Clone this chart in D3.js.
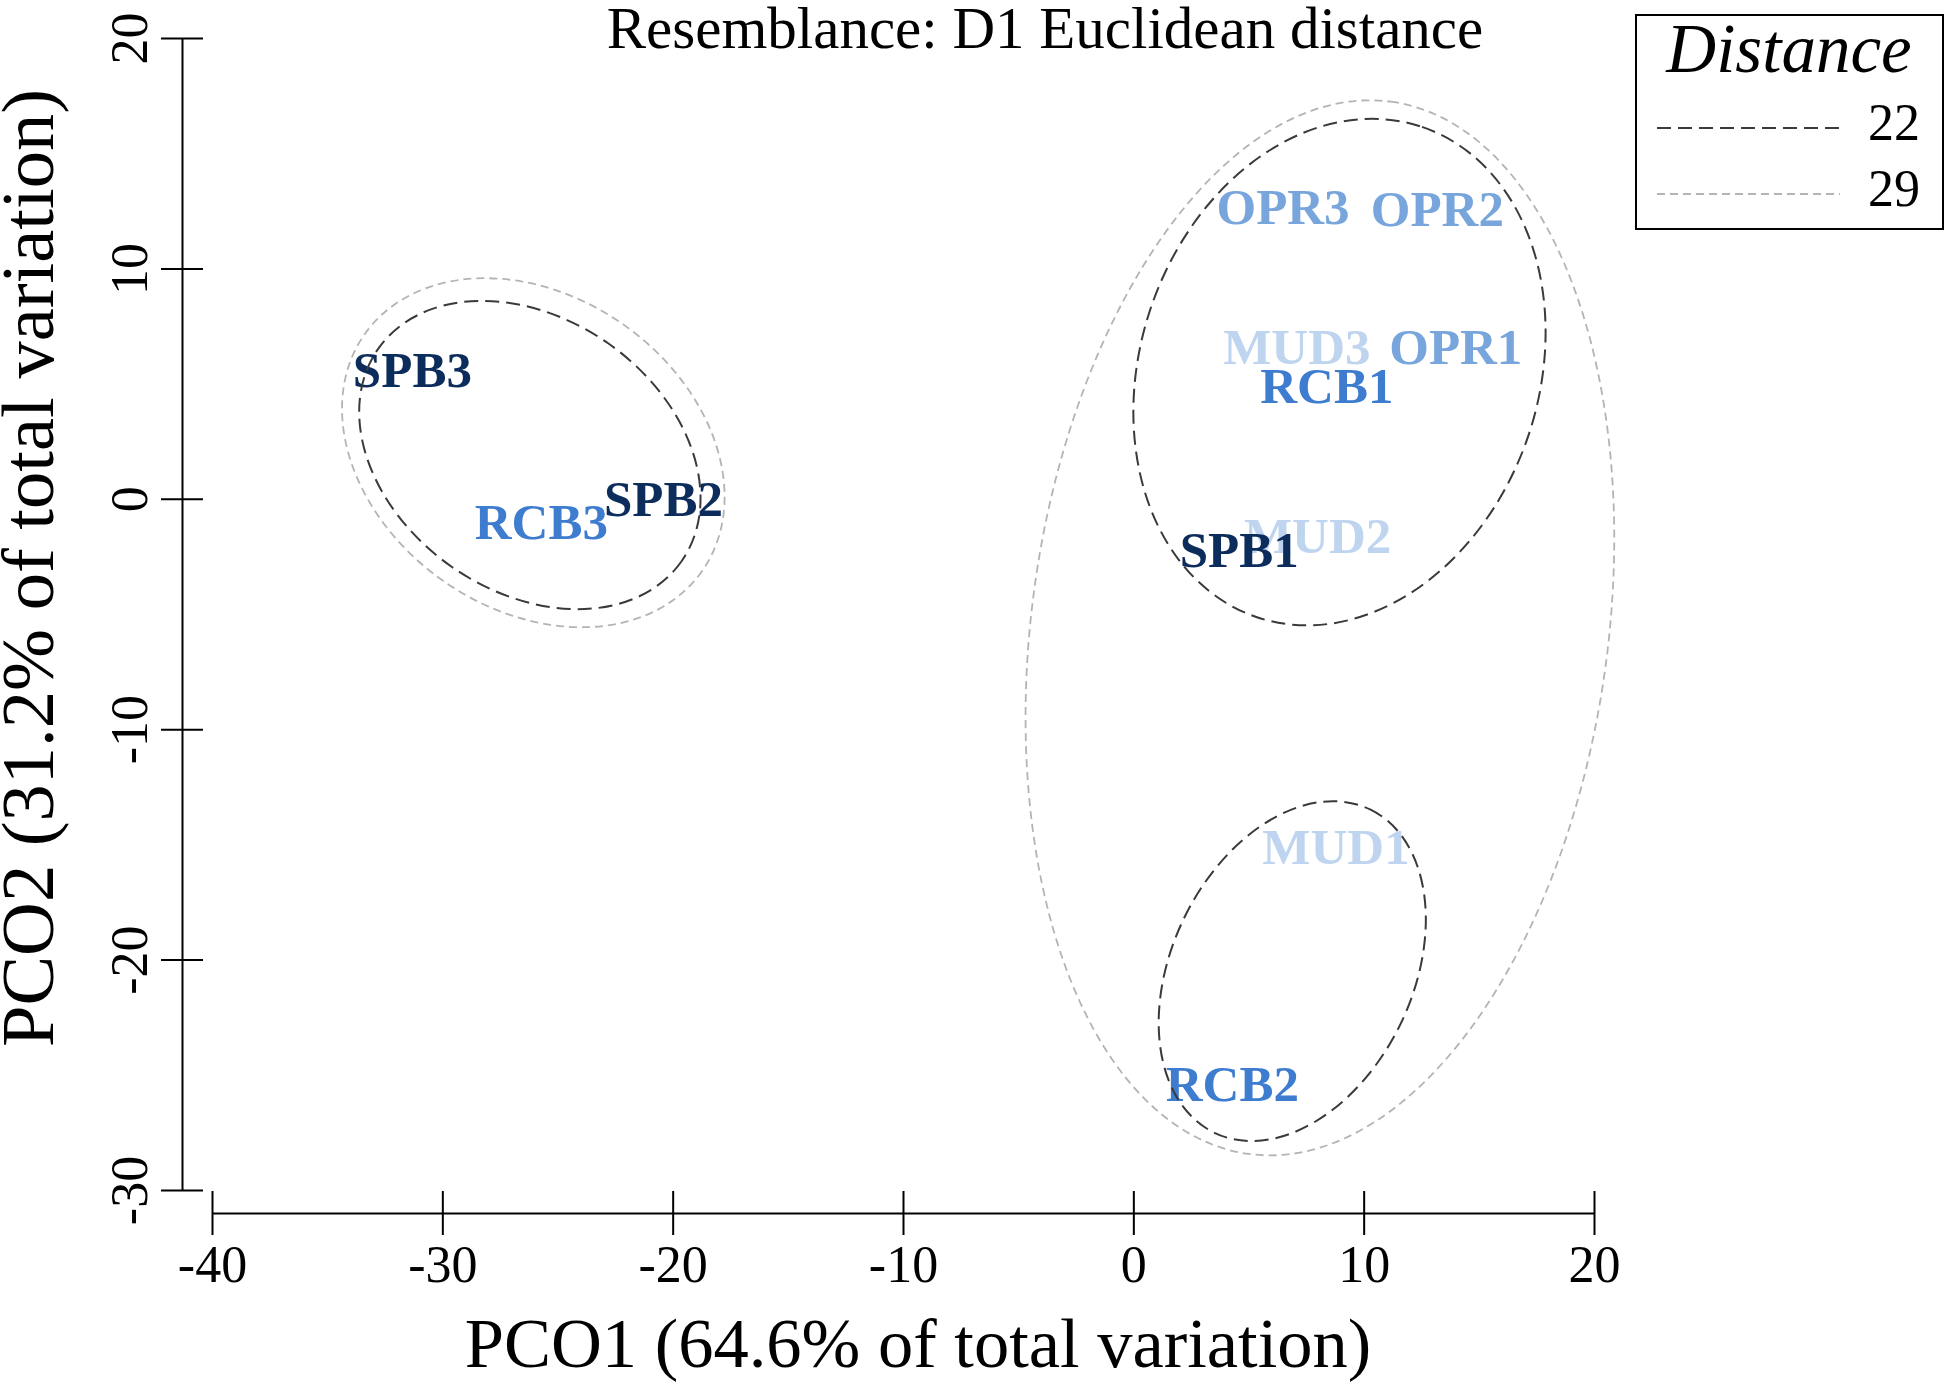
<!DOCTYPE html>
<html>
<head>
<meta charset="utf-8">
<script src="https://cdn.jsdelivr.net/npm/d3@7"></script>
<style>
  body { margin: 0; background: #fff; }
  text { font-family: "Liberation Serif", "Times New Roman", serif; }
</style>
</head>
<body>
<div id="plot"></div>
<script>
// sample labels and their PCO scores
var sites = ["MUD1", "MUD2", "MUD3", "OPR1", "OPR2", "OPR3", "RCB1", "RCB2", "RCB3", "SPB1", "SPB2", "SPB3"];
var pco1  = [8.8, 8.0, 7.1, 14.0, 13.2, 6.5, 8.4, 4.3, -25.7, 4.6, -20.4, -31.3];
var pco2  = [-15.1, -1.6, 6.6, 6.6, 12.6, 12.7, 4.9, -25.4, -1.0, -2.2, 0.0, 5.6];
var groupColors = { MUD: "#bfd5ef", OPR: "#78a6dc", RCB: "#3d7ccf", SPB: "#0c2c5c" };

// cluster contours (ellipse approximations): centre, semi axes, angle (deg, ccw), distance level
var ringLevel = [22, 29, 22, 22, 29];
var ringCx    = [-26.2, -26.05, 8.95, 6.9, 8.1];
var ringCy    = [1.9, 2.0, 5.5, -20.5, -5.6];
var ringA     = [8.04, 8.95, 11.23, 7.79, 23.05];
var ringB     = [5.92, 6.8, 8.65, 5.23, 12.51];
var ringAngle = [-35, -35, 71.4, 64.3, 82.3];

var xTicks = [-40, -30, -20, -10, 0, 10, 20];
var yTicks = [-30, -20, -10, 0, 10, 20];
var levels = [22, 29];
var levelStyle = {
  22: { stroke: "#3a3a3a", width: 2, dash: "14,7" },
  29: { stroke: "#b4b4b4", width: 1.8, dash: "8,5" }
};

var W = 1950, H = 1385;
var svg = d3.select("#plot").append("svg").attr("width", W).attr("height", H);

var x = d3.scaleLinear().domain([-40, 20]).range([212, 1594]);
var y = d3.scaleLinear().domain([-30, 20]).range([1190, 38]);
var plain = function (d) { return String(d); };  // hyphen, not unicode minus

// y axis
var yAxis = svg.append("g")
    .attr("transform", "translate(182,0)")
    .call(d3.axisLeft(y).tickValues(yTicks).tickFormat(plain).tickSize(21).tickSizeOuter(0));
yAxis.select(".domain").attr("stroke-width", 2);
yAxis.selectAll(".tick line").attr("x1", 21).attr("stroke-width", 2);
yAxis.selectAll(".tick text")
    .attr("x", 0).attr("y", 0).attr("dy", null)
    .attr("text-anchor", "middle")
    .attr("transform", "translate(-35,0) rotate(-90)")
    .style("font-size", "52px")
    .style("font-family", "Liberation Serif")
    .attr("fill", "#000");

// x axis
var xAxis = svg.append("g")
    .attr("transform", "translate(0,1213)")
    .call(d3.axisBottom(x).tickValues(xTicks).tickFormat(plain).tickSize(22).tickSizeOuter(0));
xAxis.select(".domain").attr("stroke-width", 2);
xAxis.selectAll(".tick line").attr("y1", -22).attr("stroke-width", 2);
xAxis.selectAll(".tick text")
    .attr("y", 69).attr("dy", null)
    .style("font-size", "52px")
    .style("font-family", "Liberation Serif")
    .attr("fill", "#000");

// titles
svg.append("text")
    .attr("x", 1045).attr("y", 48)
    .attr("text-anchor", "middle")
    .style("font-size", "59px")
    .text("Resemblance: D1 Euclidean distance");

svg.append("text")
    .attr("x", 918).attr("y", 1367)
    .attr("text-anchor", "middle")
    .style("font-size", "70.5px")
    .text("PCO1 (64.6% of total variation)");

svg.append("text")
    .attr("transform", "translate(53,568) rotate(-90)")
    .attr("text-anchor", "middle")
    .style("font-size", "74.5px")
    .text("PCO2 (31.2% of total variation)");

// labels
var points = sites.map(function (s, i) { return { name: s, px: pco1[i], py: pco2[i] }; });
svg.append("g").selectAll("text")
    .data(points)
    .enter().append("text")
    .attr("x", function (d) { return x(d.px); })
    .attr("y", function (d) { return y(d.py); })
    .attr("dy", "0.34em")
    .attr("text-anchor", "middle")
    .style("font-size", "51px")
    .style("font-weight", "bold")
    .attr("fill", function (d) { return groupColors[d.name.slice(0, 3)]; })
    .text(function (d) { return d.name; });

// contours
var rings = ringLevel.map(function (l, i) {
  return { level: l, cx: ringCx[i], cy: ringCy[i], a: ringA[i], b: ringB[i], ang: ringAngle[i] };
});
svg.append("g").selectAll("ellipse")
    .data(rings)
    .enter().append("ellipse")
    .attr("cx", function (d) { return x(d.cx); })
    .attr("cy", function (d) { return y(d.cy); })
    .attr("rx", function (d) { return x(d.a) - x(0); })
    .attr("ry", function (d) { return y(0) - y(d.b); })
    .attr("transform", function (d) { return "rotate(" + (-d.ang) + "," + x(d.cx) + "," + y(d.cy) + ")"; })
    .attr("fill", "none")
    .attr("stroke", function (d) { return levelStyle[d.level].stroke; })
    .attr("stroke-width", function (d) { return levelStyle[d.level].width; })
    .attr("stroke-dasharray", function (d) { return levelStyle[d.level].dash; });

// legend
var lg = svg.append("g");
lg.append("rect")
    .attr("x", 1636).attr("y", 15).attr("width", 307).attr("height", 214)
    .attr("fill", "#fff").attr("stroke", "#000").attr("stroke-width", 2);
lg.append("text")
    .attr("x", 1789).attr("y", 72)
    .attr("text-anchor", "middle")
    .style("font-size", "69px")
    .style("font-style", "italic")
    .text("Distance");
levels.forEach(function (l, i) {
  var ly = 128 + i * 66;
  lg.append("line")
      .attr("x1", 1657).attr("x2", 1840).attr("y1", ly).attr("y2", ly)
      .attr("stroke", levelStyle[l].stroke)
      .attr("stroke-width", levelStyle[l].width)
      .attr("stroke-dasharray", levelStyle[l].dash);
  lg.append("text")
      .attr("x", 1920).attr("y", ly + 12)
      .attr("text-anchor", "end")
      .style("font-size", "52px")
      .text(l);
});
</script>
</body>
</html>
